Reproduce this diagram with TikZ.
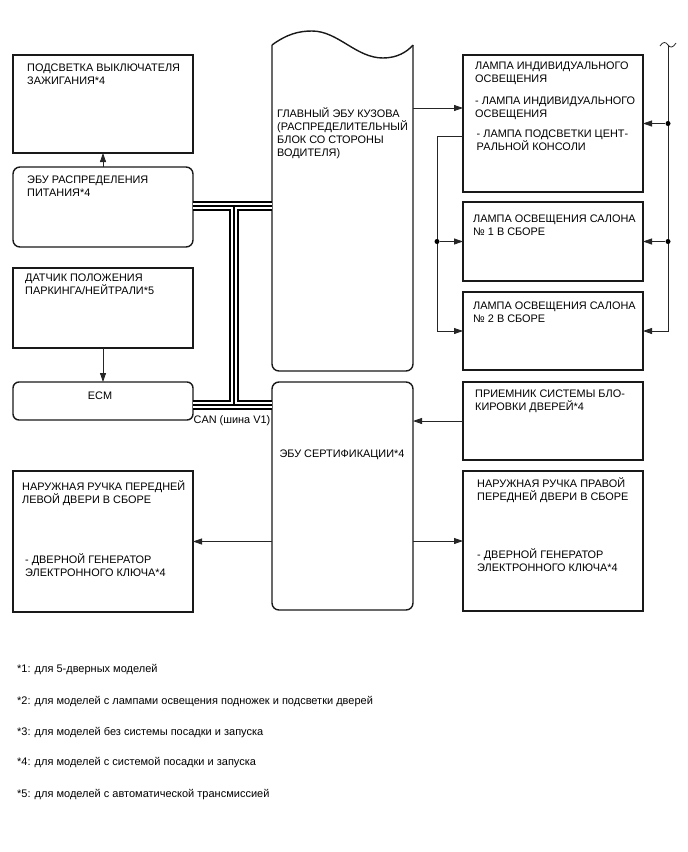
\documentclass[tikz,border=0pt]{standalone}
\usepackage{fontspec}
\setmainfont{Liberation Sans}
\usetikzlibrary{arrows.meta}
\tikzset{
 box/.style={draw=black!90,line width=1.4pt,inner sep=0,outer sep=0,anchor=north west},
 rbox/.style={box,rounded corners=7pt},
 txt/.style={align=left,inner sep=0,anchor=north west,font=\fontsize{10.9}{13}\selectfont,execute at begin node=\strut},
 note/.style={anchor=west,inner sep=0,font=\fontsize{11}{12}\selectfont},
 con/.style={draw=black!85,line width=0.8pt},
 arr/.style={con,-{Triangle[length=9pt,width=6pt]}},
 dot/.style={circle,fill=black,inner sep=0,minimum size=5pt}
}
\begin{document}
\begin{tikzpicture}[x=1pt,y=-1pt]
\useasboundingbox (0,0) rectangle (688,852);
\node[box,minimum width=180,minimum height=98] (ign) at (13,55) {};
\node[rbox,minimum width=180,minimum height=80] (pdu) at (13,167) {};
\node[box,minimum width=180,minimum height=80] (pnp) at (13,268) {};
\node[rbox,minimum width=180,minimum height=38,rounded corners=6pt] (ecm) at (13,382) {};
\node[box,minimum width=180,minimum height=141] (ldoor) at (13,471) {};
\node[inner sep=0,outer sep=0,anchor=north west,minimum width=141,minimum height=326] (bcm) at (272,45) {};
\node[rbox,minimum width=141,minimum height=228] (cert) at (272,382) {};
\node[box,minimum width=180,minimum height=137] (lamp) at (463,55) {};
\node[box,minimum width=180,minimum height=79] (sal1) at (463,202) {};
\node[box,minimum width=180,minimum height=78] (sal2) at (463,292) {};
\node[box,minimum width=180,minimum height=78] (recv) at (463,382) {};
\node[box,minimum width=180,minimum height=140] (rdoor) at (463,471) {};
\draw[line width=1.4pt,draw=black!90] (bcm.north west) .. controls (287,34) and (299,31) .. (312,31)
 .. controls (338,31) and (356,58) .. (383,58) .. controls (397,58) and (407,52) .. (bcm.north east);
\draw[line width=1.4pt,draw=black!90,rounded corners=7pt] (bcm.north west) -- (bcm.south west) -- (bcm.south east) -- (bcm.north east);

\node[txt] (tign) at (27,63.5) {ПОДСВЕТКА ВЫКЛЮЧАТЕЛЯ\\ЗАЖИГАНИЯ*4};
\node[txt] (tpdu) at (27,175.5) {ЭБУ РАСПРЕДЕЛЕНИЯ\\ПИТАНИЯ*4};
\node[txt] (tpnp) at (25,273.5) {ДАТЧИК ПОЛОЖЕНИЯ\\ПАРКИНГА/НЕЙТРАЛИ*5};
\node[txt,anchor=center,execute at begin node={}] (tecm) at (100,397) {ECM};
\node[txt] (tbcm) at (277,107.5) {ГЛАВНЫЙ ЭБУ КУЗОВА\\(РАСПРЕДЕЛИТЕЛЬНЫЙ\\БЛОК СО СТОРОНЫ\\ВОДИТЕЛЯ)};
\node[txt,anchor=center,execute at begin node={}] (tcert) at (342,455) {ЭБУ СЕРТИФИКАЦИИ*4};
\node[txt] (tlamp) at (475,61.5) {ЛАМПА ИНДИВИДУАЛЬНОГО\\ОСВЕЩЕНИЯ\\[9pt]- ЛАМПА ИНДИВИДУАЛЬНОГО\\ОСВЕЩЕНИЯ\\[7pt]\hspace{1.5pt}- ЛАМПА ПОДСВЕТКИ ЦЕНТ-\\\hspace{1.5pt}РАЛЬНОЙ КОНСОЛИ};
\node[txt] (tsal1) at (473,214.5) {ЛАМПА ОСВЕЩЕНИЯ САЛОНА\\№ 1 В СБОРЕ};
\node[txt] (tsal2) at (473,301.5) {ЛАМПА ОСВЕЩЕНИЯ САЛОНА\\№ 2 В СБОРЕ};
\node[txt] (trecv) at (475,389.5) {ПРИЕМНИК СИСТЕМЫ БЛО-\\КИРОВКИ ДВЕРЕЙ*4};
\node[txt] (trdoor) at (477,477.5) {НАРУЖНАЯ РУЧКА ПРАВОЙ\\ПЕРЕДНЕЙ ДВЕРИ В СБОРЕ};
\node[txt] (trgen) at (477,548.5) {- ДВЕРНОЙ ГЕНЕРАТОР\\ЭЛЕКТРОННОГО КЛЮЧА*4};
\node[txt] (tldoor) at (22,480.5) {НАРУЖНАЯ РУЧКА ПЕРЕДНЕЙ\\ЛЕВОЙ ДВЕРИ В СБОРЕ};
\node[txt] (tlgen) at (25,553.5) {- ДВЕРНОЙ ГЕНЕРАТОР\\ЭЛЕКТРОННОГО КЛЮЧА*4};

\coordinate (cT) at (234,206);
\coordinate (cB) at (234,405);
\foreach \w/\c in {9.5/black,6/white,1.5/black}
 \draw[line width=\w,\c] (pdu.east |- cT) -- (bcm.west |- cT) (cT) -- (cB) (ecm.east |- cB) -- (cert.west |- cB);
\node[txt,anchor=center,execute at begin node={}] (can) at (232,421) {CAN (шина V1)};

\draw[arr] (pdu.north) -- (ign.south);
\draw[arr] (pnp.south) -- (ecm.north);
\draw[arr] (bcm.east |- 0,108) -- (lamp.west |- 0,108);
\draw[arr] (recv.west) -- (cert.east |- recv.west);
\draw[arr] (cert.west |- ldoor.east) -- (ldoor.east);
\draw[arr] (cert.east |- rdoor.west) -- (rdoor.west);

\coordinate (lb) at (437,136);
\draw[arr] (lamp.west |- lb) -- (lb) -- (lb |- sal2.west) -- (sal2.west);
\node[dot] (ld) at (lb |- sal1.west) {};
\draw[arr] (ld) -- (sal1.west);

\coordinate (tl) at (668,45);
\draw[con] (660,46) .. controls (663,41) and (666,42) .. (tl) .. controls (670,48) and (673,48) .. (676,43);
\draw[arr] (tl) -- (tl |- sal2.east) -- (sal2.east);
\node[dot] (rd1) at (tl |- lamp.east) {};
\node[dot] (rd2) at (tl |- sal1.east) {};
\draw[arr] (rd1) -- (lamp.east);
\draw[arr] (rd2) -- (sal1.east);

\node[note] (n1) at (17,670) {*1: для 5-дверных моделей};
\node[note] (n2) at (17,702) {*2: для моделей с лампами освещения подножек и подсветки дверей};
\node[note] (n3) at (17,733) {*3: для моделей без системы посадки и запуска};
\node[note] (n4) at (17,763) {*4: для моделей с системой посадки и запуска};
\node[note] (n5) at (17,795) {*5: для моделей с автоматической трансмиссией};
\end{tikzpicture}
\end{document}
